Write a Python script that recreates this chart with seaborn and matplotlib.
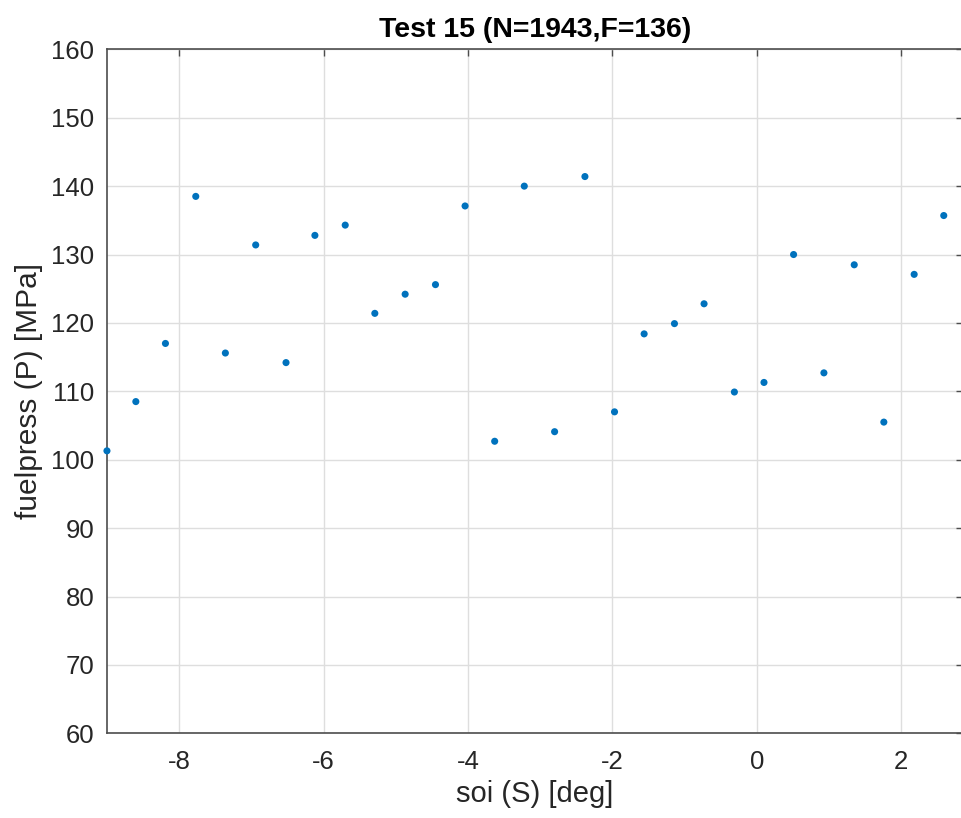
import matplotlib
matplotlib.use("Agg")
import matplotlib.pyplot as plt
import seaborn as sns
import pandas as pd

# soi (S) [deg] vs fuelpress (P) [MPa]
soi = [-9.00, -8.60, -8.19, -7.77, -7.36, -6.94, -6.52, -6.12, -5.70, -5.29,
       -4.87, -4.45, -4.04, -3.63, -3.22, -2.80, -2.38, -1.97, -1.56, -1.14,
       -0.73, -0.31, 0.10, 0.51, 0.93, 1.35, 1.76, 2.18, 2.59]
fuelpress = [101.3, 108.5, 117.0, 138.5, 115.6, 131.4, 114.2, 132.8, 134.3, 121.4,
             124.2, 125.6, 137.1, 102.7, 140.0, 104.1, 141.4, 107.0, 118.4, 119.9,
             122.8, 109.9, 111.3, 130.0, 112.7, 128.5, 105.5, 127.1, 135.7]
x_ticks = [-8, -6, -4, -2, 0, 2]
y_ticks = [60, 70, 80, 90, 100, 110, 120, 130, 140, 150, 160]

df = pd.DataFrame({"soi": soi, "fuelpress": fuelpress})

sns.set_style("white")
plt.rcParams['font.family'] = ['Liberation Sans', 'DejaVu Sans']
plt.rcParams['axes.unicode_minus'] = False

axcol = "#4d4d4d"
txtcol = "#262626"

fig = plt.figure(figsize=(9.61, 8.18), dpi=100)
ax = fig.add_axes([0.1113, 0.1035, 0.8903, 0.8362])

sns.scatterplot(data=df, x="soi", y="fuelpress", ax=ax, color="#0072BD",
                s=26, edgecolor="none", linewidth=0, zorder=3, clip_on=False)

ax.set_xlim(-9, 2.85)
ax.set_ylim(60, 160)
ax.set_xticks(x_ticks)
ax.set_yticks(y_ticks)
ax.grid(True, color="#dedede", linewidth=1.0)
ax.set_axisbelow(True)

for s in ax.spines.values():
    s.set_color(axcol)
    s.set_linewidth(1.2)

ax.tick_params(direction="in", length=5, width=1.0, color=axcol,
               labelsize=18.5, labelcolor=txtcol, top=True, right=True)
ax.tick_params(axis="x", pad=12)
ax.tick_params(axis="y", pad=9)

ax.set_xlabel("soi (S) [deg]", fontsize=21, color=txtcol, labelpad=4)
ax.set_ylabel("fuelpress (P) [MPa]", fontsize=21.5, color=txtcol, labelpad=6)
ax.set_title("Test 15 (N=1943,F=136)", fontsize=20.5, fontweight="bold",
             color="black", pad=9)

fig.savefig("out.png", dpi=100)
